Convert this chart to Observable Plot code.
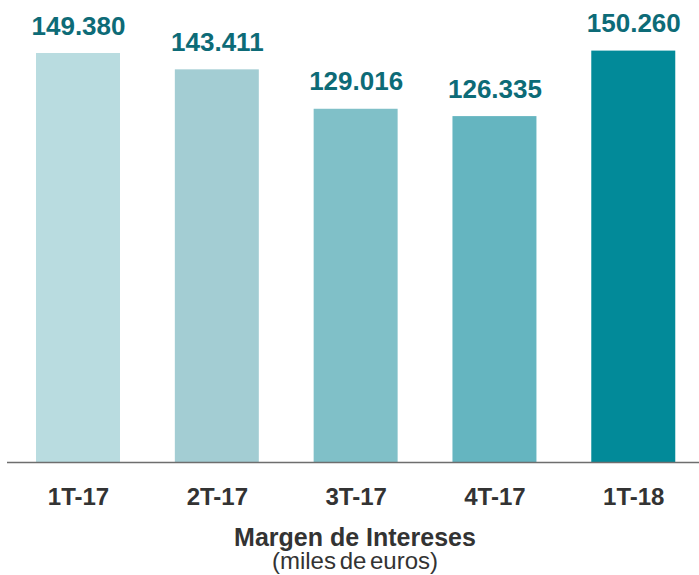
<!DOCTYPE html>
<html>
<head>
<meta charset="utf-8">
<script src="https://cdn.jsdelivr.net/npm/d3@7"></script>
<script src="https://cdn.jsdelivr.net/npm/@observablehq/plot@0.6"></script>
<style>
  html, body { margin: 0; padding: 0; background: #fff; }
  body { width: 699px; height: 575px; overflow: hidden; position: relative; font-family: "Liberation Sans", Arial, sans-serif; }
  #chart svg { display: block; }
  #caption { position: absolute; left: 0; top: 525px; width: 710px; text-align: center; color: #333; }
  #caption b { font-size: 25px; line-height: 24px; }
  #caption span { font-size: 24px; line-height: 22px; word-spacing: -3px; }
</style>
</head>
<body>
<div id="chart"></div>
<div id="caption"><b>Margen de Intereses</b><br><span>(miles de euros)</span></div>
<script>
const quarters = ["1T-17", "2T-17", "3T-17", "4T-17", "1T-18"];
const values = [149380, 143411, 129016, 126335, 150260];
const labels = ["149.380", "143.411", "129.016", "126.335", "150.260"];
const colors = ["#b9dce0", "#a3cdd3", "#80c0c8", "#65b5c0", "#028a99"];

const data = quarters.map((q, i) => ({q, v: values[i], label: labels[i], color: colors[i]}));

const chart = Plot.plot({
  width: 699,
  height: 515,
  marginTop: 0,
  marginBottom: 53,
  marginLeft: 7,
  marginRight: 0,
  style: {fontFamily: "'Liberation Sans', Arial, sans-serif", background: "#fff"},
  x: {domain: quarters, paddingInner: 0.395, paddingOuter: 0.19, align: 0.55, round: false, label: null},
  y: {domain: [0, 168740], axis: null},
  marks: [
    Plot.barY(data, {x: "q", y: "v", fill: "color"}),
    Plot.ruleY([0], {stroke: "#6e6e6e", strokeWidth: 1.6}),
    Plot.text(data, {x: "q", y: "v", text: "label", lineAnchor: "bottom", dy: -19,
      fill: "#0d6b77", fontSize: 26, fontWeight: "bold"}),
    Plot.axisX({tickSize: 0, tickPadding: 25, fontSize: 24, fontWeight: "bold",
      color: "#333", label: null})
  ]
});
document.getElementById("chart").appendChild(chart);
</script>
</body>
</html>
